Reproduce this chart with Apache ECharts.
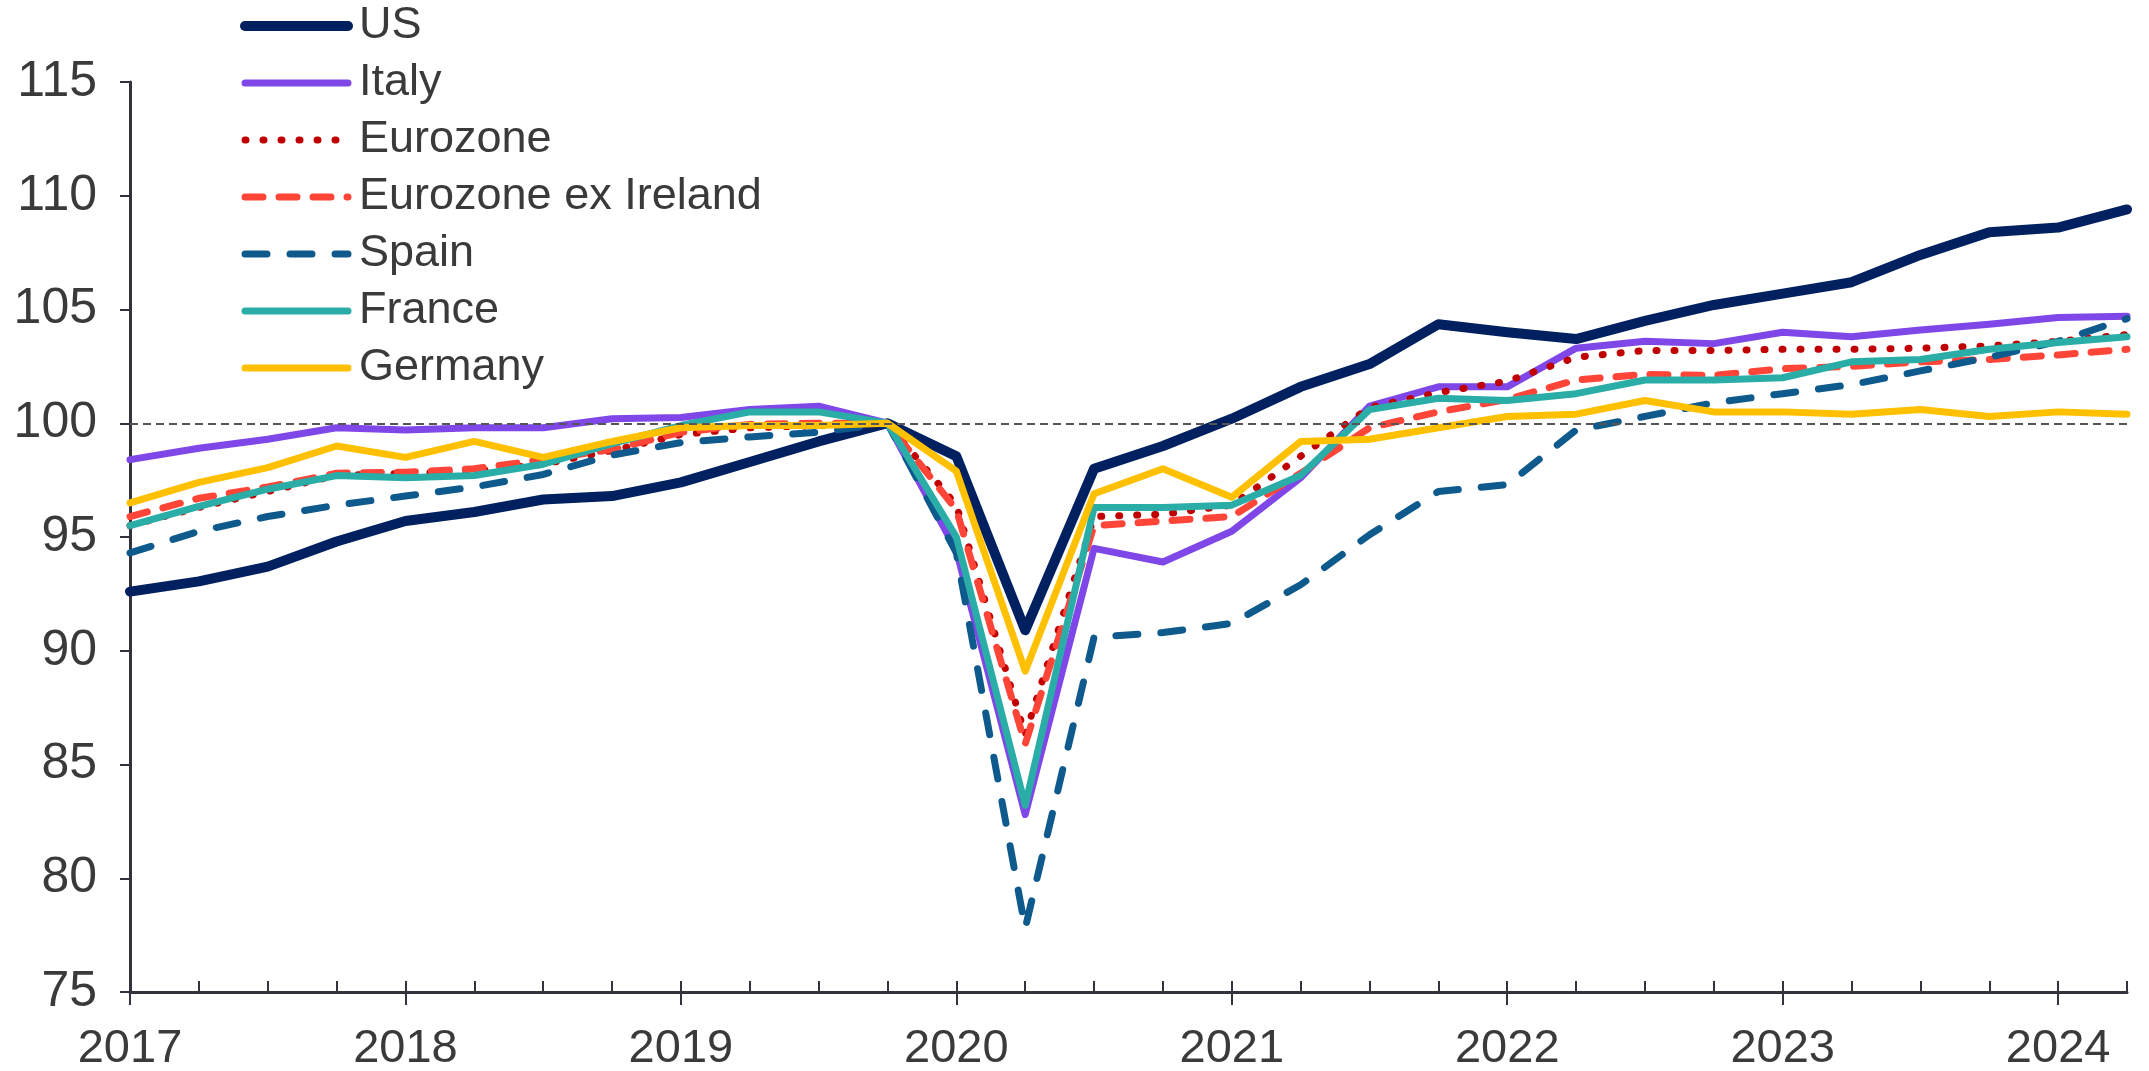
<!DOCTYPE html>
<html>
  <head>
    <meta charset="UTF-8" />
    <title></title>
    <style type="text/css">
      html,
      body {
        width: 100%;
        height: 100%;
        margin: 0;
        padding: 0;
        overflow: hidden;
        background: #fff;
      }
      #chart {
        width: 2149px;
        height: 1071px;
      }
    </style>
  </head>
  <body>
    <div id="chart"></div>
    <script
      type="text/javascript"
      src="https://cdn.jsdelivr.net/npm/echarts@6/dist/echarts.min.js"
    ></script>
    <script type="text/javascript">
      // quarterly, 2017Q1 .. 2024Q2, index 2019Q4 = 100
      const quarters = [];
      for (let y = 2017; y <= 2024; y++) {
        for (let q = 1; q <= 4; q++) {
          if (y === 2024 && q > 2) break;
          quarters.push(y + " Q" + q);
        }
      }

      const usData = [92.6, 93.05, 93.7, 94.8, 95.7, 96.1, 96.65, 96.8, 97.4, 98.3, 99.2, 100, 98.55, 90.9, 98.0, 99.0, 100.2, 101.6, 102.6, 104.35, 104.0, 103.7, 104.5, 105.2, 105.7, 106.2, 107.4, 108.4, 108.6, 109.4];
      const italyData = [98.4, 98.9, 99.3, 99.8, 99.7, 99.8, 99.8, 100.2, 100.25, 100.6, 100.75, 100, 94.4, 82.8, 94.5, 93.9, 95.25, 97.6, 100.75, 101.6, 101.6, 103.3, 103.6, 103.5, 104.0, 103.8, 104.1, 104.35, 104.65, 104.7];
      const eurozoneData = [95.5, 96.3, 97.0, 97.7, 97.8, 97.9, 98.2, 98.8, 99.5, 99.8, 99.9, 100, 96.4, 86.3, 95.9, 96.0, 96.4, 98.55, 100.7, 101.35, 101.85, 102.9, 103.2, 103.2, 103.25, 103.25, 103.3, 103.4, 103.6, 103.9];
      const ezExIrelandData = [95.9, 96.7, 97.2, 97.8, 97.85, 98.0, 98.4, 98.85, 99.6, 99.95, 100.0, 100, 96.2, 85.9, 95.5, 95.7, 95.9, 97.8, 99.8, 100.5, 101.05, 101.9, 102.15, 102.1, 102.4, 102.5, 102.7, 102.8, 103.0, 103.25];
      const spainData = [94.3, 95.25, 95.9, 96.4, 96.8, 97.2, 97.75, 98.6, 99.15, 99.4, 99.6, 100, 94.3, 77.8, 90.6, 90.8, 91.2, 92.9, 95.1, 97.0, 97.3, 99.7, 100.3, 100.9, 101.3, 101.7, 102.3, 102.9, 103.6, 104.6];
      const franceData = [95.5, 96.35, 97.1, 97.7, 97.6, 97.7, 98.2, 99.1, 99.9, 100.5, 100.5, 100, 95.0, 83.2, 96.3, 96.3, 96.4, 97.7, 100.6, 101.1, 101.0, 101.3, 101.9, 101.9, 102.0, 102.7, 102.8, 103.25, 103.55, 103.8];
      const germanyData = [96.5, 97.4, 98.05, 99.0, 98.5, 99.2, 98.5, 99.2, 99.8, 99.9, 99.9, 100, 97.9, 89.1, 96.9, 98.0, 96.75, 99.2, 99.3, 99.8, 100.3, 100.4, 101.0, 100.5, 100.5, 100.4, 100.6, 100.3, 100.5, 100.4];

      const yTicks = { min: 75, max: 115, step: 5 };
      const baseLine = 100;

      const FONT = "'Liberation Sans', Arial, sans-serif";
      const TEXT = "#3a3a3a";
      const AXIS = "#33333d";

      const styles = {
        US: { color: "#002060", width: 10, type: "solid" },
        Italy: { color: "#7f46e8", width: 7, type: "solid" },
        Eurozone: { color: "#c00000", width: 7, type: [1, 17] },
        "Eurozone ex Ireland": { color: "#ff4438", width: 7, type: [18, 16] },
        Spain: { color: "#0f5a8c", width: 7, type: [22, 23] },
        France: { color: "#29ada6", width: 7, type: "solid" },
        Germany: { color: "#ffc000", width: 7, type: "solid" },
      };

      const mk = (name, data) => ({
        name: name,
        type: "line",
        data: data,
        symbol: "none",
        z: 3,
        lineStyle: Object.assign({ cap: "round", join: "round" }, styles[name]),
        itemStyle: { color: styles[name].color },
      });

      const series = [
        {
          name: "ref",
          type: "line",
          data: [],
          z: 1,
          silent: true,
          markLine: {
            silent: true,
            symbol: "none",
            label: { show: false },
            lineStyle: { color: "#555", width: 2, type: [8, 5] },
            data: [{ yAxis: baseLine }],
          },
        },
        mk("US", usData),
        mk("Italy", italyData),
        mk("Eurozone", eurozoneData),
        mk("Eurozone ex Ireland", ezExIrelandData),
        mk("Spain", spainData),
        mk("France", franceData),
        mk("Germany", germanyData),
      ];

      const legendNames = ["US", "Italy", "Eurozone", "Eurozone ex Ireland", "Spain", "France", "Germany"];

      const chart = echarts.init(document.getElementById("chart"));
      chart.setOption({
        animation: false,
        backgroundColor: "#fff",
        textStyle: { fontFamily: FONT },
        grid: { left: 130, right: 22, top: 82, bottom: 79, containLabel: false, outerBoundsMode: "none" },
        legend: {
          data: legendNames.map((n) => ({
            name: n,
            itemStyle: { opacity: 0 },
            lineStyle: Object.assign({ cap: "round", opacity: 1 }, styles[n]),
          })),
          orient: "vertical",
          left: 235,
          top: -2,
          itemWidth: 103,
          itemHeight: 14,
          itemGap: 11,
          textStyle: {
            fontFamily: FONT,
            fontSize: 45,
            lineHeight: 46,
            color: TEXT,
            padding: [0, 0, 0, 6],
          },
        },
        xAxis: [
          {
            type: "category",
            data: quarters,
            boundaryGap: false,
            axisLine: { lineStyle: { color: AXIS, width: 3 } },
            axisTick: { inside: true, length: 11, interval: 0, lineStyle: { color: AXIS, width: 2 } },
            axisLabel: {
              interval: 3,
              margin: 34,
              fontSize: 47,
              color: TEXT,
              fontFamily: FONT,
              formatter: (v) => v.slice(0, 4),
            },
          },
          {
            type: "category",
            data: quarters,
            boundaryGap: false,
            position: "bottom",
            axisLine: { show: false },
            axisTick: { inside: false, length: 13, interval: 3, lineStyle: { color: AXIS, width: 2 } },
            axisLabel: { show: false },
          },
        ],
        yAxis: {
          type: "value",
          min: yTicks.min,
          max: yTicks.max,
          interval: yTicks.step,
          splitLine: { show: false },
          axisLine: { show: true, lineStyle: { color: AXIS, width: 3 } },
          axisTick: { show: true, length: 10, lineStyle: { color: AXIS, width: 2 } },
          axisLabel: { margin: 33, fontSize: 50, color: TEXT, fontFamily: FONT },
        },
        series: series,
      });
    </script>
  </body>
</html>
